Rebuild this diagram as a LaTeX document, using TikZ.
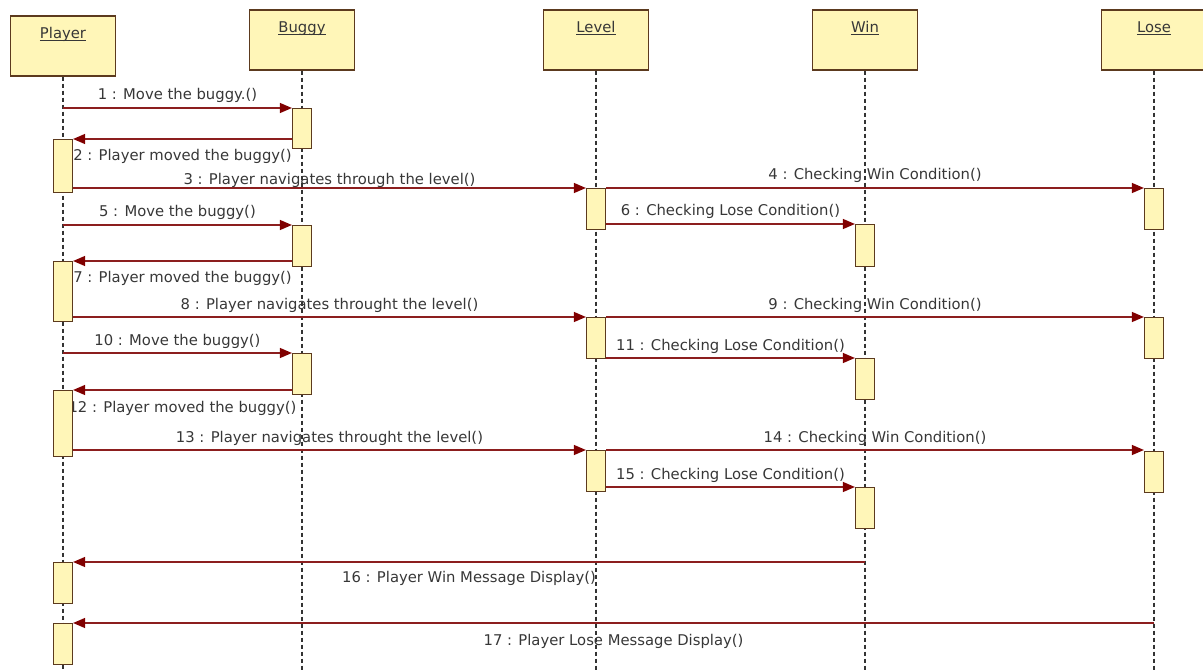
\documentclass[tikz,border=0pt]{standalone}
\usepackage{fontspec}
\setmainfont{DejaVu Sans}
\usetikzlibrary{arrows.meta,backgrounds}
\definecolor{boxfill}{RGB}{255,246,184}
\definecolor{boxline}{RGB}{92,58,30}
\definecolor{msgline}{RGB}{140,30,30}
\definecolor{tipcol}{RGB}{128,0,0}
\definecolor{txt}{RGB}{55,55,55}
\tikzset{
  header/.style={draw=boxline, fill=boxfill, line width=1.3pt, minimum width=105pt, minimum height=60pt, inner sep=0pt},
  title/.style={anchor=base, inner sep=0pt, text=txt, font=\fontsize{14.8}{17}\selectfont},
  ul/.style={draw=txt, line width=0.9pt},
  act/.style={draw=boxline, fill=boxfill, line width=1.2pt, minimum width=19pt, inner sep=0pt, anchor=north},
  lifeline/.style={draw=black!80, line width=1.2pt, dash pattern=on 4pt off 3pt},
  msg/.style={draw=msgline, line width=1.2pt, -{Triangle[length=12pt,width=10pt,fill=tipcol,color=tipcol]}},
  lab/.style={anchor=base, inner sep=0pt, text=txt, font=\fontsize{14.8}{17}\selectfont},
  callab/.style={lab, midway, yshift=8pt},
  retlab/.style={lab, midway, yshift=-22pt}
}
\begin{document}
\begin{tikzpicture}[x=1pt,y=-1pt]
\useasboundingbox (0,0) rectangle (1203,671);
\coordinate (bottom) at (0,671);
% headers
\node[header] (hP) at (63,46) {};
\node[header] (hB) at (302,40) {};
\node[header] (hL) at (596,40) {};
\node[header] (hW) at (865,40) {};
\node[header] (hLo) at (1154,40) {};
\foreach \n/\t in {P/Player,B/Buggy,L/Level,W/Win,Lo/Lose}{
  \node[title] (t\n) at ([yshift=-23pt]h\n.north) {\t};
  \draw[ul] ([yshift=-2.5pt]t\n.base west) -- ([yshift=-2.5pt]t\n.base east);
}
% activation boxes
\newcommand{\actbox}[4]{\node[act, minimum height=#4-#3] (#1) at (#2|-0,#3) {};}
\actbox{aB1}{hB}{108}{148}
\actbox{aP1}{hP}{139}{192}
\actbox{aL1}{hL}{188}{229}
\actbox{aLo1}{hLo}{188}{229}
\actbox{aW1}{hW}{224}{266}
\actbox{aB2}{hB}{225}{266}
\actbox{aP2}{hP}{261}{321}
\actbox{aL2}{hL}{317}{358}
\actbox{aLo2}{hLo}{317}{358}
\actbox{aW2}{hW}{358}{399}
\actbox{aB3}{hB}{353}{394}
\actbox{aP3}{hP}{390}{456}
\actbox{aL3}{hL}{450}{491}
\actbox{aLo3}{hLo}{451}{492}
\actbox{aW3}{hW}{487}{528}
\actbox{aP4}{hP}{562}{603}
\actbox{aP5}{hP}{623}{664}
\begin{pgfonlayer}{background}
\foreach \n in {P,B,L,W,Lo}{
  \draw[lifeline] (h\n.south) -- (h\n.south|-bottom);
}
% messages
\draw[msg] (hP.south|-aB1.north) -- (aB1.north west) node[callab]{1 : Move the buggy.()};
\draw[msg] (aB1.west|-aP1.north) -- (aP1.north east) node[retlab]{2 : Player moved the buggy()};
\draw[msg] (aP1.east|-aL1.north) -- (aL1.north west) node[lab,midway,yshift=3pt]{3 : Player navigates through the level()};
\draw[msg] (aL1.north east) -- (aLo1.north west) node[callab]{4 : Checking Win Condition()};
\draw[msg] (hP.south|-aB2.north) -- (aB2.north west) node[callab]{5 : Move the buggy()};
\draw[msg] (aL1.east|-aW1.north) -- (aW1.north west) node[callab]{6 : Checking Lose Condition()};
\draw[msg] (aB2.west|-aP2.north) -- (aP2.north east) node[retlab]{7 : Player moved the buggy()};
\draw[msg] (aP2.east|-aL2.north) -- (aL2.north west) node[callab]{8 : Player navigates throught the level()};
\draw[msg] (aL2.north east) -- (aLo2.north west) node[callab]{9 : Checking Win Condition()};
\draw[msg] (hP.south|-aB3.north) -- (aB3.north west) node[callab]{10 : Move the buggy()};
\draw[msg] (aL2.east|-aW2.north) -- (aW2.north west) node[callab]{11 : Checking Lose Condition()};
\draw[msg] (aB3.west|-aP3.north) -- (aP3.north east) node[retlab]{12 : Player moved the buggy()};
\draw[msg] (aP3.east|-aL3.north) -- (aL3.north west) node[callab]{13 : Player navigates throught the level()};
\draw[msg] (aL3.north east) -- (aLo3.west|-aL3.north) node[callab]{14 : Checking Win Condition()};
\draw[msg] (aL3.east|-aW3.north) -- (aW3.north west) node[callab]{15 : Checking Lose Condition()};
\draw[msg] (hW.south|-aP4.north) -- (aP4.north east) node[lab,midway,yshift=-20pt]{16 : Player Win Message Display()};
\draw[msg] (hLo.south|-aP5.north) -- (aP5.north east) node[retlab]{17 : Player Lose Message Display()};
\end{pgfonlayer}
\end{tikzpicture}
\end{document}
